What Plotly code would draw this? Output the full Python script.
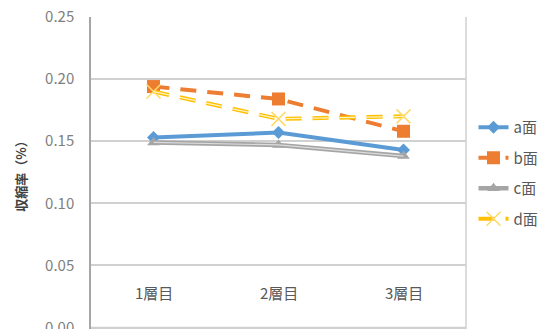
import plotly.graph_objects as go

# Shrinkage rate by layer for each face
layers = ["1層目", "2層目", "3層目"]
face_a = [0.153, 0.157, 0.143]
face_b = [0.194, 0.184, 0.158]
face_c = [0.149, 0.147, 0.138]
face_d = [0.190, 0.168, 0.170]
series_names = ["a面", "b面", "c面", "d面"]
y_ticks = [0.00, 0.05, 0.10, 0.15, 0.20, 0.25]

FONT = "Noto Sans CJK JP, Noto Sans, sans-serif"
xs = list(range(len(layers)))

fig = go.Figure()

# a: solid blue with diamonds
fig.add_trace(go.Scatter(
    x=xs, y=face_a, name=series_names[0], mode="lines+markers", legendgroup="a",
    line=dict(color="#5B9BD5", width=4),
    marker=dict(symbol="diamond", size=10, color="#5B9BD5"),
))
# b: dashed orange with squares
fig.add_trace(go.Scatter(
    x=xs, y=face_b, name=series_names[1], mode="lines+markers", legendgroup="b",
    line=dict(color="#ED7D31", width=4, dash="16px,11px"),
    marker=dict(symbol="square", size=13, color="#ED7D31"),
))
# c: grey double line with triangles
fig.add_trace(go.Scatter(
    x=xs, y=face_c, name=series_names[2], mode="lines+markers", legendgroup="c",
    line=dict(color="#A5A5A5", width=4.5),
    marker=dict(symbol="triangle-up", size=11, color="#A5A5A5"),
))
fig.add_trace(go.Scatter(
    x=xs, y=face_c, mode="lines", showlegend=False, hoverinfo="skip",
    line=dict(color="#DCDCDC", width=1.2),
))
# d: dashed gold double line with thin crosses
fig.add_trace(go.Scatter(
    x=xs, y=face_d, name=series_names[3], mode="lines+markers", legendgroup="d",
    line=dict(color="#FFC000", width=4, dash="16px,11px"),
    marker=dict(symbol="x-thin", size=14, color="#FFD966",
                line=dict(color="#FFD966", width=1.5)),
))
fig.add_trace(go.Scatter(
    x=xs, y=face_d, mode="lines", showlegend=False, hoverinfo="skip",
    line=dict(color="#FFF2C2", width=1.3, dash="16px,11px"),
))

# Category labels sit inside the plot, just above the baseline
for i, lab in enumerate(layers):
    fig.add_annotation(x=i, y=0.0285, xref="x", yref="y", text=lab,
                       showarrow=False, font=dict(family=FONT, size=15, color="#595959"))

# Right-hand border of the plot area and the baseline
fig.add_shape(type="line", xref="paper", yref="paper", x0=1, x1=1, y0=0, y1=1,
              line=dict(color="#D0D0D0", width=1.5))
fig.add_shape(type="line", xref="paper", yref="y", x0=0, x1=1, y0=0, y1=0,
              line=dict(color="#D0D0D0", width=1.5), layer="below")

fig.update_layout(
    width=557, height=329,
    margin=dict(l=91, r=91, t=17, b=0),
    paper_bgcolor="white", plot_bgcolor="white",
    font=dict(family=FONT, size=15, color="#7F7F7F"),
    showlegend=True,
    legend=dict(x=1.02, y=0.5, xanchor="left", yanchor="middle",
                traceorder="grouped", tracegroupgap=8,
                font=dict(family=FONT, size=15, color="#595959"),
                bgcolor="rgba(0,0,0,0)"),
    xaxis=dict(range=[-0.5, 2.5], showticklabels=False, showgrid=False,
               zeroline=False, showline=False, automargin=False),
    yaxis=dict(range=[-0.0012, 0.25], tickvals=y_ticks, tickformat=".2f",
               showgrid=True, gridcolor="#D0D0D0", gridwidth=1.5,
               zeroline=False, showline=True, linecolor="#A6A6A6", linewidth=1.5,
               ticks="", ticklabelstandoff=12, automargin=False,
               ticklabeloverflow="allow",
               tickfont=dict(family=FONT, size=15, color="#7F7F7F"),
               title=dict(text="<b>収縮率（%）</b>", standoff=16,
                          font=dict(family=FONT, size=13, color="#404040"))),
)

fig.write_html("out.html")
